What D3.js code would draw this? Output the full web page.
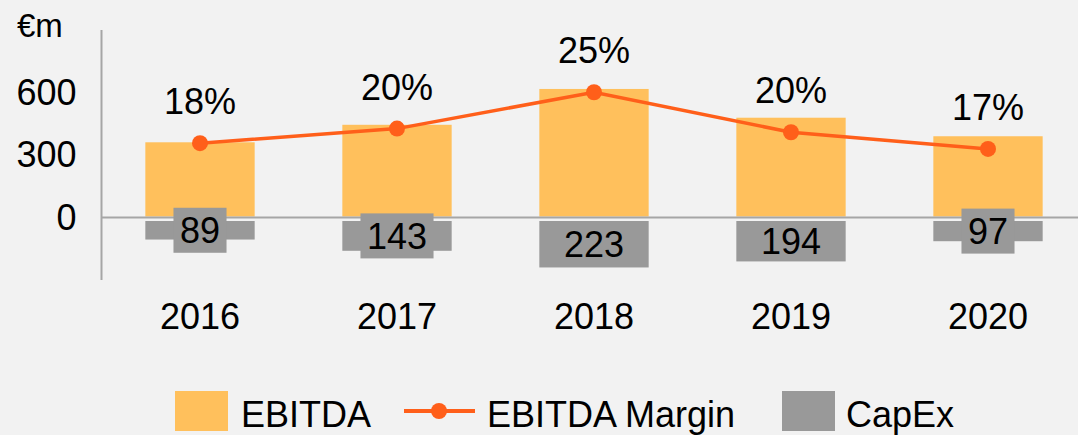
<!DOCTYPE html>
<html>
<head>
<meta charset="utf-8">
<script src="https://cdn.jsdelivr.net/npm/d3@7"></script>
<style>
  body { margin: 0; background: #f2f2f2; }
  svg text { font-family: "Liberation Sans", Arial, sans-serif; fill: #000; }
</style>
</head>
<body>
<div id="chart"></div>
<script>
var years = ['2016', '2017', '2018', '2019', '2020'];
var ebitda = [361, 445, 617, 479, 390];
var capex = [89, 143, 223, 194, 97];
var margin = [0.180, 0.200, 0.250, 0.195, 0.172];
var yTicks = [0, 300, 600];

var svgWidth = 1078;
var svgHeight = 435;
var fontSize = 36;

var orange = '#ffc05c';
var lineColor = '#ff5f1a';
var grey = '#999999';
var axisColor = '#a6a6a6';

var svg = d3.select('#chart').append('svg')
	.attr('width', svgWidth)
	.attr('height', svgHeight)
	.style('background', '#f2f2f2');

var x = d3.scaleBand()
	.domain(years)
	.range([101.5, 1086.5])
	.paddingInner(0.445)
	.paddingOuter(0.2225);

var y = d3.scaleLinear().domain([-300, 900]).range([280, 30]);

// secondary (hidden) axis for the margin line
var y2 = d3.scaleLinear().domain([0, 0.30]).range([274, 55.9]);

var gap = 3.5; // capex bars sit a little below the zero line

// EBITDA bars
svg.selectAll('rect.ebitda')
	.data(ebitda)
	.enter()
	.append('rect')
	.attr('class', 'ebitda')
	.attr('x', function (d, i) { return x(years[i]); })
	.attr('y', function (d) { return y(d); })
	.attr('width', x.bandwidth())
	.attr('height', function (d) { return y(0) - y(d) - 1; })
	.attr('fill', orange);

// zero line and y axis line
svg.append('line')
	.attr('x1', 101.5).attr('x2', svgWidth)
	.attr('y1', y(0)).attr('y2', y(0))
	.attr('stroke', axisColor).attr('stroke-width', 2);

svg.append('line')
	.attr('x1', 101.5).attr('x2', 101.5)
	.attr('y1', y.range()[1]).attr('y2', y.range()[0])
	.attr('stroke', axisColor).attr('stroke-width', 2);

// CapEx bars (drawn downward)
function capTop() { return y(0) + gap; }
function capH(d) { return y(-d) - y(0); }

svg.selectAll('rect.capex')
	.data(capex)
	.enter()
	.append('rect')
	.attr('class', 'capex')
	.attr('x', function (d, i) { return x(years[i]); })
	.attr('y', capTop())
	.attr('width', x.bandwidth())
	.attr('height', function (d) { return capH(d); })
	.attr('fill', grey);

// CapEx labels with grey boxes
var labels = svg.selectAll('g.caplabel')
	.data(capex)
	.enter()
	.append('g')
	.attr('class', 'caplabel')
	.attr('transform', function (d, i) {
		return 'translate(' + (x(years[i]) + x.bandwidth() / 2) + ',' + (capTop() + capH(d) / 2) + ')';
	});

labels.append('text')
	.attr('text-anchor', 'middle')
	.attr('y', 12.8)
	.style('font-size', fontSize + 'px')
	.text(function (d) { return d; })
	.each(function (d) {
		var w = this.getComputedTextLength() + 13;
		if (capH(d) < 38) {
			d3.select(this.parentNode).insert('rect', 'text')
				.attr('x', -w / 2).attr('y', -22.5)
				.attr('width', w).attr('height', 45)
				.attr('fill', grey);
		}
	});

// margin line
var line = d3.line()
	.x(function (d, i) { return x(years[i]) + x.bandwidth() / 2; })
	.y(function (d) { return y2(d); });

svg.append('path')
	.datum(margin)
	.attr('d', line)
	.attr('fill', 'none')
	.attr('stroke', lineColor)
	.attr('stroke-width', 3.5);

svg.selectAll('circle.pt')
	.data(margin)
	.enter()
	.append('circle')
	.attr('class', 'pt')
	.attr('cx', function (d, i) { return x(years[i]) + x.bandwidth() / 2; })
	.attr('cy', function (d) { return y2(d); })
	.attr('r', 8)
	.attr('fill', lineColor);

svg.selectAll('text.pct')
	.data(margin)
	.enter()
	.append('text')
	.attr('class', 'pct')
	.attr('text-anchor', 'middle')
	.attr('x', function (d, i) { return x(years[i]) + x.bandwidth() / 2; })
	.attr('y', function (d) { return y2(d) - 29; })
	.style('font-size', fontSize + 'px')
	.text(function (d) { return d3.format('.0%')(d); });

// y axis labels
var yAxis = svg.append('g')
	.attr('transform', 'translate(101.5,0)')
	.call(d3.axisLeft(y).tickValues(yTicks).tickSize(0).tickPadding(25));
yAxis.select('.domain').remove();
yAxis.selectAll('text')
	.style('font-size', fontSize + 'px')
	.style('font-family', '"Liberation Sans", Arial, sans-serif')
	.attr('fill', '#000');

svg.append('text')
	.attr('x', 17)
	.attr('y', 37)
	.style('font-size', '33px')
	.text('€m');

// x axis labels
var xAxis = svg.append('g')
	.attr('transform', 'translate(0,' + 329 + ')')
	.call(d3.axisBottom(x).tickSize(0).tickPadding(0));
xAxis.select('.domain').remove();
xAxis.selectAll('text')
	.attr('dy', 0)
	.attr('y', 0)
	.style('font-size', fontSize + 'px')
	.style('font-family', '"Liberation Sans", Arial, sans-serif')
	.attr('fill', '#000');

// legend
var legend = svg.append('g');
legend.append('rect')
	.attr('x', 175).attr('y', 391).attr('width', 53).attr('height', 40)
	.attr('fill', orange);
legend.append('text')
	.attr('x', 241).attr('y', 427)
	.style('font-size', fontSize + 'px')
	.text('EBITDA');

legend.append('line')
	.attr('x1', 404).attr('x2', 475).attr('y1', 411).attr('y2', 411)
	.attr('stroke', lineColor).attr('stroke-width', 4);
legend.append('circle')
	.attr('cx', 439).attr('cy', 411).attr('r', 8)
	.attr('fill', lineColor);
legend.append('text')
	.attr('x', 487).attr('y', 427)
	.style('font-size', fontSize + 'px')
	.text('EBITDA Margin');

legend.append('rect')
	.attr('x', 782).attr('y', 391).attr('width', 53).attr('height', 40)
	.attr('fill', grey);
legend.append('text')
	.attr('x', 846).attr('y', 427)
	.style('font-size', fontSize + 'px')
	.text('CapEx');
</script>
</body>
</html>
